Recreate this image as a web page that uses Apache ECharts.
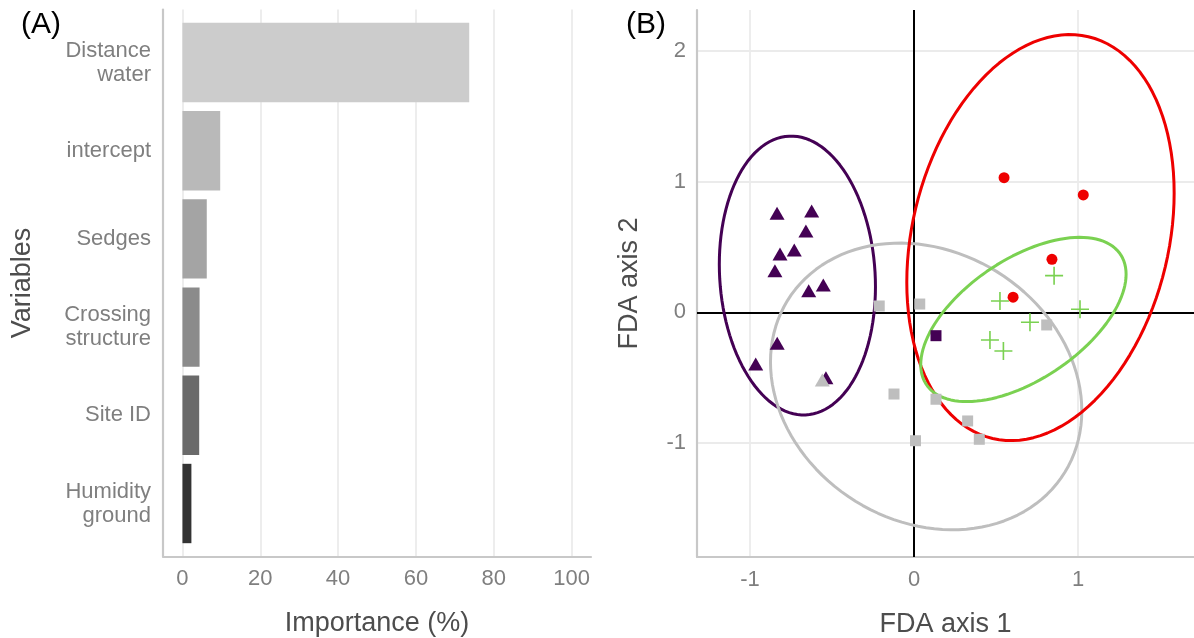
<!DOCTYPE html>
<html>
<head>
<meta charset="utf-8">
<script src="https://cdn.jsdelivr.net/npm/echarts@6/dist/echarts.min.js"></script>
<style>
  html, body { margin: 0; padding: 0; background: #fff; }
  #chart { width: 1194px; height: 638px; }
</style>
</head>
<body>
<div id="chart"></div>
<script>
// (A) variable importance
const variables = ['Distance\nwater', 'intercept', 'Sedges', 'Crossing\nstructure', 'Site ID', 'Humidity\nground'];
const importance = [73.7, 9.7, 6.25, 4.4, 4.3, 2.3];
const barColors = ['#CCCCCC', '#B9B9B9', '#A4A4A4', '#8B8B8B', '#6A6A6A', '#333333'];
const importanceTicks = [0, 20, 40, 60, 80, 100];

// (B) FDA scores, one set per group
const triX = [-0.835, -0.624, -0.659, -0.730, -0.817, -0.848, -0.642, -0.553, -0.834, -0.965, -0.537];
const triY = [0.757, 0.774, 0.622, 0.476, 0.446, 0.318, 0.165, 0.209, -0.237, -0.395, -0.500];
const greySqX = [-0.212, 0.035, -0.122, 0.134, 0.327, 0.398, 0.009, 0.809];
const greySqY = [0.048, 0.063, -0.625, -0.665, -0.831, -0.971, -0.982, -0.097];
const greyTriX = [-0.559];
const greyTriY = [-0.518];
const purpleSqX = [0.134];
const purpleSqY = [-0.179];
const redX = [0.549, 1.032, 0.841, 0.604];
const redY = [1.029, 0.897, 0.405, 0.115];
const greenX = [0.854, 0.524, 1.012, 0.707, 0.463, 0.545];
const greenY = [0.280, 0.086, 0.023, -0.076, -0.212, -0.296];

// ellipses: centre, half extents and correlation
const ellipseColors = ['#440154', '#BEBEBE', '#EE0000', '#7AD151'];
const ellipseCx = [-0.711, 0.074, 0.771, 0.667];
const ellipseCy = [0.281, -0.567, 0.571, -0.055];
const ellipseW = [0.476, 0.949, 0.815, 0.626];
const ellipseH = [1.066, 1.096, 1.552, 0.628];
const ellipseR = [-0.08, -0.17, 0.22, 0.55];

const fdaTicksX = [-1, 0, 1];
const fdaTicksY = [-1, 0, 1, 2];

const font = 'Liberation Sans';
const tickColor = '#7f7f7f';
const titleColor = '#4d4d4d';
const axisGrey = '#c8c8c8';
const gridGrey = '#ebebeb';

const pairs = (xs, ys) => xs.map((x, i) => [x, ys[i]]);

function ellipsePath(k) {
  const pts = [];
  const s = Math.sqrt(1 - ellipseR[k] * ellipseR[k]);
  for (let i = 0; i <= 120; i++) {
    const t = (i / 120) * Math.PI * 2;
    pts.push([
      ellipseCx[k] + ellipseW[k] * Math.cos(t),
      ellipseCy[k] + ellipseH[k] * (ellipseR[k] * Math.cos(t) + s * Math.sin(t))
    ]);
  }
  return pts;
}

const plusPath = 'path://M4.55,0h0.9v10h-0.9z M0,4.55h10v0.9h-10z';

var chart = echarts.init(document.getElementById('chart'));

var ellipseSeries = ellipseColors.map((c, k) => ({
  type: 'line',
  xAxisIndex: 2, yAxisIndex: 2,
  data: ellipsePath(k),
  showSymbol: false,
  silent: true,
  lineStyle: { color: c, width: 3 },
  z: 3
}));

function points(xs, ys, symbol, size, color, z) {
  return {
    type: 'scatter', xAxisIndex: 2, yAxisIndex: 2, data: pairs(xs, ys),
    symbol: symbol, symbolSize: size,
    itemStyle: { color: color, opacity: 1 },
    silent: true, z: z
  };
}

var option = {
  animation: false,
  title: [
    { text: '(A)', left: 16, top: 5, textStyle: { fontFamily: font, fontSize: 30, fontWeight: 'normal', color: '#000' } },
    { text: '(B)', left: 621, top: 5, textStyle: { fontFamily: font, fontSize: 30, fontWeight: 'normal', color: '#000' } }
  ],
  grid: [
    { left: 163, right: 603, top: 18.4, bottom: 90.4, outerBoundsMode: 'none', containLabel: false },
    { left: 163, right: 603, top: 9.6, bottom: 81.6, outerBoundsMode: 'none', containLabel: false },
    { left: 697, right: 0, top: 10, bottom: 81, outerBoundsMode: 'none', containLabel: false }
  ],
  xAxis: [
    { gridIndex: 0, type: 'value', min: -5, max: 105, show: false },
    {
      gridIndex: 1, type: 'value', min: -5, max: 105,
      axisLine: { show: true, onZero: false, lineStyle: { color: axisGrey, width: 2.2 } },
      axisTick: { show: false },
      splitLine: { show: false },
      axisLabel: { customValues: importanceTicks, fontFamily: font, fontSize: 22, color: tickColor, margin: 12 },
      name: 'Importance (%)', nameLocation: 'middle', nameGap: 54,
      nameTextStyle: { fontFamily: font, fontSize: 27, color: titleColor }
    },
    {
      gridIndex: 2, type: 'value', min: -1.323, max: 1.707,
      axisLine: { show: true, onZero: false, lineStyle: { color: axisGrey, width: 2.2 } },
      axisTick: { show: false },
      splitLine: { show: false },
      axisLabel: { customValues: fdaTicksX, fontFamily: font, fontSize: 22, color: tickColor, margin: 12 },
      name: 'FDA axis 1', nameLocation: 'middle', nameGap: 54,
      nameTextStyle: { fontFamily: font, fontSize: 27, color: titleColor }
    }
  ],
  yAxis: [
    {
      gridIndex: 0, type: 'category', data: variables, inverse: true,
      axisLine: { show: false }, axisTick: { show: false },
      axisLabel: { fontFamily: font, fontSize: 22, lineHeight: 24, color: tickColor, margin: 12, align: 'right', padding: [5, 0, 0, 0] }
    },
    {
      gridIndex: 1, type: 'value', min: 0, max: 1,
      axisLine: { show: true, onZero: false, lineStyle: { color: axisGrey, width: 2.2 } },
      axisTick: { show: false }, axisLabel: { show: false }, splitLine: { show: false },
      name: 'Variables', nameLocation: 'middle', nameRotate: 90, nameGap: 127,
      nameTextStyle: { fontFamily: font, fontSize: 27, color: titleColor }
    },
    {
      gridIndex: 2, type: 'value', min: -1.871, max: 2.311,
      axisLine: { show: true, onZero: false, lineStyle: { color: axisGrey, width: 2.2 } },
      axisTick: { show: false },
      splitLine: { show: false },
      axisLabel: { customValues: fdaTicksY, fontFamily: font, fontSize: 22, color: tickColor, margin: 11 },
      name: 'FDA axis 2', nameLocation: 'middle', nameRotate: 90, nameGap: 54,
      nameTextStyle: { fontFamily: font, fontSize: 27, color: titleColor }
    }
  ],
  series: [
    // panel A vertical grid lines
    {
      type: 'scatter', xAxisIndex: 1, yAxisIndex: 1, data: [], z: 0,
      markLine: {
        silent: true, symbol: 'none', label: { show: false }, z: 0,
        lineStyle: { color: gridGrey, width: 1.8, type: 'solid' },
        data: importanceTicks.map(v => ({ xAxis: v }))
      }
    },
    {
      type: 'bar', xAxisIndex: 0, yAxisIndex: 0,
      data: importance.map((v, i) => ({ value: v, itemStyle: { color: barColors[i] } })),
      barWidth: '90%', silent: true, z: 2
    },
    // panel B grid and zero lines
    {
      type: 'scatter', xAxisIndex: 2, yAxisIndex: 2, data: [], z: 0,
      markLine: {
        silent: true, symbol: 'none', label: { show: false }, z: 0,
        lineStyle: { color: gridGrey, width: 1.8, type: 'solid' },
        data: fdaTicksX.map(v => ({ xAxis: v })).concat(fdaTicksY.map(v => ({ yAxis: v })))
      }
    },
    {
      type: 'scatter', xAxisIndex: 2, yAxisIndex: 2, data: [], z: 1,
      markLine: {
        silent: true, symbol: 'none', label: { show: false }, z: 1,
        lineStyle: { color: '#000', width: 2, type: 'solid' },
        data: [{ xAxis: 0 }, { yAxis: 0 }]
      }
    },
    ...ellipseSeries,
    points(triX, triY, 'triangle', [15, 13], '#440154', 4),
    points(greySqX, greySqY, 'rect', 11, '#BEBEBE', 4),
    points(greyTriX, greyTriY, 'triangle', [15, 13], '#BEBEBE', 5),
    points(purpleSqX, purpleSqY, 'rect', 11, '#440154', 4),
    points(redX, redY, 'circle', 11, '#EE0000', 4),
    points(greenX, greenY, plusPath, 18, '#7AD151', 4)
  ]
};

chart.setOption(option);
</script>
</body>
</html>
